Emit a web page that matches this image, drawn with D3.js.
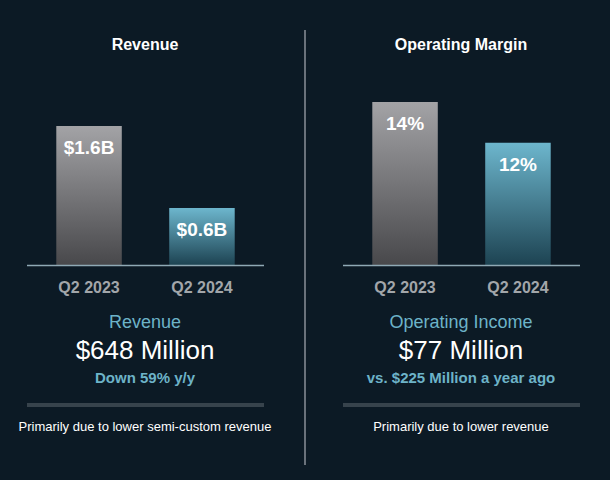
<!DOCTYPE html>
<html><head><meta charset="utf-8">
<script src="https://cdn.jsdelivr.net/npm/d3@7"></script>
<style>body{margin:0;background:#0c1a25}svg{display:block}text{font-family:"Liberation Sans",Arial,sans-serif}</style>
</head><body><svg id="c" width="610" height="480"></svg>
<script>
const categories = ["Q2 2023","Q2 2024"];
const revenueValues = [1.58, 0.648];
const revenueLabels = ["$1.6B","$0.6B"];
const marginValues = [14, 12];
const marginLabels = ["14%","12%"];

const svg = d3.select("#c");
svg.append("rect").attr("width",610).attr("height",480).attr("fill","#0c1a25");
const defs = svg.append("defs");
function grad(id,c1,c2){const g=defs.append("linearGradient").attr("id",id).attr("x1",0).attr("y1",0).attr("x2",0).attr("y2",1);
 g.append("stop").attr("offset","0%").attr("stop-color",c1);g.append("stop").attr("offset","100%").attr("stop-color",c2);}
grad("g0","#a3a3a6","#48484b"); grad("g1","#6db6cd","#1d4352");
const fills=["url(#g0)","url(#g1)"];

svg.append("line").attr("x1",305).attr("x2",305).attr("y1",30).attr("y2",465).attr("stroke","#8a9198").attr("stroke-width",1.5);

function panel(x0,title,vals,labels,domain,sub,big,note,foot){
  const cx=x0+118;
  svg.append("text").attr("x",cx).attr("y",50).attr("text-anchor","middle").attr("fill","#fff").attr("font-weight","bold").attr("font-size",16).text(title);
  const x=d3.scaleBand().domain(categories).range([x0+18,x0+219]).paddingInner(0.42).paddingOuter(0.1);
  const y=d3.scaleLinear().domain(domain).range([265,102]);
  const g=svg.append("g");
  g.selectAll("rect").data(vals).join("rect").attr("x",(d,i)=>x(categories[i])).attr("width",x.bandwidth())
    .attr("y",d=>y(d)).attr("height",d=>265-y(d)).attr("fill",(d,i)=>fills[i]);
  g.selectAll("text.v").data(vals).join("text").attr("class","v").attr("x",(d,i)=>x(categories[i])+x.bandwidth()/2)
    .attr("y",d=>y(d)+28).attr("text-anchor","middle").attr("fill","#fff").attr("font-weight","bold").attr("font-size",19).text((d,i)=>labels[i]);
  svg.append("line").attr("x1",x0).attr("x2",x0+237).attr("y1",265.5).attr("y2",265.5).attr("stroke","#8fa9b5").attr("stroke-width",1.5);
  svg.selectAll(null).data(categories).join("text").attr("x",d=>x(d)+x.bandwidth()/2).attr("y",293).attr("text-anchor","middle")
    .attr("fill","#a2a6aa").attr("font-weight","bold").attr("font-size",16).text(d=>d);
  svg.append("text").attr("x",cx).attr("y",328).attr("text-anchor","middle").attr("fill","#6db3c8").attr("font-size",18).text(sub);
  svg.append("text").attr("x",cx).attr("y",359).attr("text-anchor","middle").attr("fill","#fff").attr("font-size",26).text(big);
  svg.append("text").attr("x",cx).attr("y",383).attr("text-anchor","middle").attr("fill","#6db3c8").attr("font-weight","bold").attr("font-size",15).text(note);
  svg.append("rect").attr("x",x0).attr("y",403).attr("width",237).attr("height",4).attr("fill","#37434c");
  svg.append("text").attr("x",cx).attr("y",431).attr("text-anchor","middle").attr("fill","#fff").attr("font-size",13).text(foot);
}
panel(27,"Revenue",revenueValues,revenueLabels,[0,1.58*163/139],"Revenue","$648 Million","Down 59% y/y","Primarily due to lower semi-custom revenue");
panel(343,"Operating Margin",marginValues,marginLabels,[6,14],"Operating Income","$77 Million","vs. $225 Million a year ago","Primarily due to lower revenue");
</script></body></html>
